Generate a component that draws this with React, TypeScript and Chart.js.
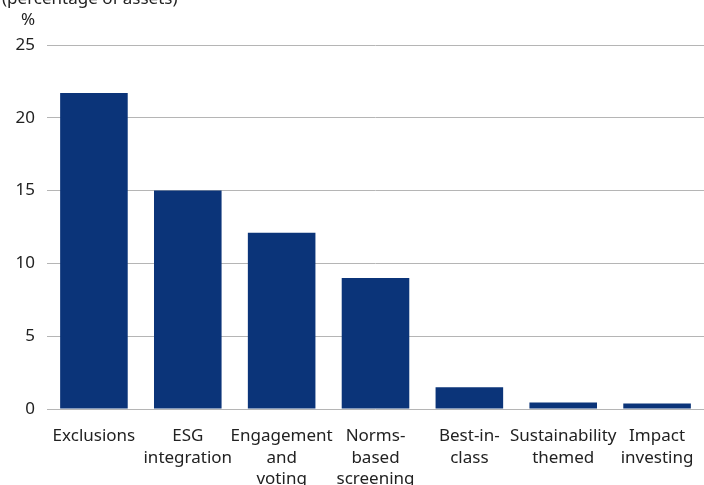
import React, { useEffect, useRef } from "react";
import { Chart, registerables } from "chart.js";

Chart.register(...registerables);

const categories: string[][] = [
  ["Exclusions"],
  ["ESG", "integration"],
  ["Engagement", "and", "voting"],
  ["Norms-", "based", "screening"],
  ["Best-in-", "class"],
  ["Sustainability", "themed"],
  ["Impact", "investing"],
];
const values: number[] = [21.7, 15.0, 12.1, 9.0, 1.5, 0.45, 0.38];
const yTicks: number[] = [0, 5, 10, 15, 20, 25];
const titleText = "(percentage of assets)";
const unitText = "%";

const FONT = '"Noto Sans", "Open Sans", sans-serif';
const TEXT = "#222222";

export default function App() {
  const ref = useRef<HTMLCanvasElement | null>(null);
  useEffect(() => {
    if (!ref.current) return;
    const labelsPlugin = {
      id: "labelsPlugin",
      afterDraw(chart: any) {
        const ctx = chart.ctx;
        ctx.save();
        ctx.fillStyle = TEXT;
        ctx.font = `17px ${FONT}`;
        ctx.textBaseline = "alphabetic";
        ctx.textAlign = "left";
        ctx.fillText(titleText, 2, 4);
        ctx.textAlign = "center";
        ctx.fillText(unitText, 28, 25);
        ctx.restore();
      },
    };
    const chart = new Chart(ref.current, {
      type: "bar",
      data: {
        labels: categories,
        datasets: [
          {
            data: values,
            backgroundColor: "#0b3479",
            borderWidth: 0,
            barPercentage: 0.72,
            categoryPercentage: 1,
          },
        ],
      },
      options: {
        animation: false,
        responsive: false,
        layout: { padding: { top: 45, right: 0, left: 0, bottom: 0 } },
        plugins: {
          legend: { display: false },
          tooltip: { enabled: false },
          title: { display: false },
        },
        scales: {
          x: {
            grid: { display: false, drawTicks: false },
            border: { display: false },
            ticks: {
              color: TEXT,
              font: { family: FONT, size: 17, lineHeight: 1.25 },
              padding: 17,
              maxRotation: 0,
              autoSkip: false,
            },
            afterFit(scale: any) {
              scale.height = 76;
              scale.paddingLeft = 0;
              scale.paddingRight = 0;
            },
          },
          y: {
            min: 0,
            max: 25,
            afterBuildTicks(scale: any) {
              scale.ticks = yTicks.map((v) => ({ value: v }));
            },
            grid: { color: "#b5b5b5", lineWidth: 1, drawTicks: false },
            border: { display: false },
            ticks: {
              color: TEXT,
              font: { family: FONT, size: 17 },
              padding: 12,
            },
            afterFit(scale: any) {
              scale.width = 47;
            },
          },
        },
      },
      plugins: [labelsPlugin],
    });
    return () => chart.destroy();
  }, []);
  return (
    <div style={{ position: "absolute", left: 0, top: 0, width: 704, height: 485, background: "#fff" }}>
      <canvas ref={ref} width={704} height={485} style={{ display: "block" }} />
    </div>
  );
}
